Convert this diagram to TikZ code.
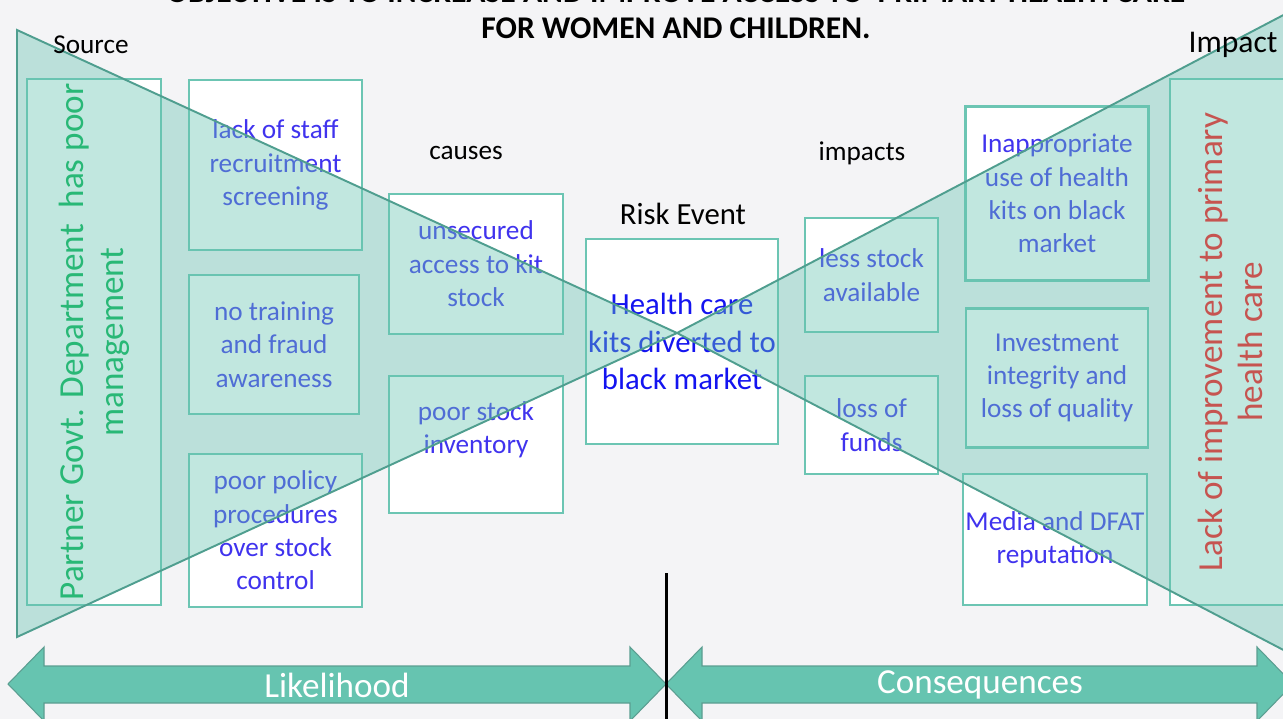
\documentclass[tikz,border=0pt]{standalone}
\usepackage{fontspec}
\setmainfont{Carlito}
\definecolor{pagebg}{HTML}{F4F4F6}
\definecolor{boxline}{HTML}{6CC5B3}
\definecolor{bowfill}{HTML}{66C4B0}
\definecolor{bowline}{HTML}{4F9E8F}
\definecolor{bandline}{HTML}{5B9E91}
\definecolor{causetext}{HTML}{4033EE}
\definecolor{eventtext}{HTML}{1414F0}
\definecolor{sourcegreen}{HTML}{00B050}
\definecolor{impactred}{HTML}{C65450}

\begin{document}
\begin{tikzpicture}[x=0.02cm,y=-0.02cm,
  box/.style={draw=boxline,line width=1.4pt,fill=white,align=center,text=causetext,inner sep=0pt,font=\fontsize{15.5}{19}\selectfont},
  sz/.style 2 args={minimum width=#1*0.02cm,minimum height=#2*0.02cm},
  head/.style={font=\fontsize{15.5}{19}\selectfont},
  title/.style={anchor=base,font=\bfseries\fontsize{18}{20}\selectfont},
  side/.style={rotate=90,align=center,font=\fontsize{20}{22.7}\selectfont},
  bow/.style={fill=bowfill,fill opacity=0.4,draw=bowline,line width=1.1pt},
  band/.style={fill=bowfill,draw=bandline,line width=0.6pt},
  bandtext/.style={text=white,font=\fontsize{20}{24}\selectfont}]
  \useasboundingbox (0,0) rectangle (1283,719);
  \fill[pagebg] (0,0) rectangle (1283,719);

  \node[title] (goal) at (676,3) {OBJECTIVE IS TO INCREASE AND IMPROVE ACCESS TO~ PRIMARY HEALTH CARE};
  \node[title] (goalb) at (676,39) {FOR WOMEN AND CHILDREN.};

  % causes side
  \node[box,sz={134}{526}] (source) at (94,342) {};
  \node[side,text=sourcegreen] (sourcetext) at (source.center) {Partner Govt. Department~ has poor\\management};
  \node[box,sz={173}{170}] (staff) at (275.5,165) {lack of staff\\recruitment\\screening};
  \node[box,sz={170}{139}] (training) at (274,344.5) {no training\\and fraud\\awareness};
  \node[box,sz={173}{153}] (policy) at (275.5,530.5) {poor policy\\procedures\\over stock\\control};
  \node[box,sz={174}{140}] (access) at (476,264) {unsecured\\access to kit\\stock};
  \node[box,sz={174}{137}] (inventory) at (476,444.5) {poor stock\\inventory\\\mbox{}};

  \node[box,sz={192}{205},text=eventtext,font=\fontsize{17.5}{21.5}\selectfont] (event) at (682,341.5) {Health care\\kits diverted to\\black market};

  % impacts side
  \node[box,sz={133}{114}] (stockout) at (871.5,275) {less stock\\available};
  \node[box,sz={133}{98}] (funds) at (871.5,425) {loss of\\funds};
  \node[box,sz={183}{174}] (misuse) at (1057,193.5) {Inappropriate\\use of health\\kits on black\\market};
  \node[box,sz={182}{139}] (integrity) at (1057,378) {Investment\\integrity and\\loss of quality};
  \node[box,sz={184}{131}] (media) at (1055,539.5) {Media and DFAT\\reputation};
  \node[box,sz={120}{526}] (impact) at (1230,342) {};

  % bow tie
  \coordinate (knot) at (677,333);
  \filldraw[bow] (17,30) -- (17,637) -- (knot) -- cycle;
  \filldraw[bow] (knot) -- (1293,10) -- (1293,655) -- cycle;

  \node[side,text=impactred] (impacttext) at (impact.center) {Lack of improvement to primary\\health care};

  \node[head] (sourcelbl) at (91,45) {Source};
  \node[head] (causeslbl) at (466,153) {causes};
  \node[font=\fontsize{17.5}{21}\selectfont] (eventlbl) at (683,214) {Risk Event};
  \node[head] (impactslbl) at (862,153) {impacts};
  \node[font=\fontsize{18}{22}\selectfont] (impactlbl) at (1233,45) {Impact};

  % likelihood / consequences bands
  \filldraw[band] (8,684) -- (44,647) -- (44,666) -- (630,666) -- (630,647) -- (666,684)
    -- (630,721) -- (630,703) -- (44,703) -- (44,721) -- cycle;
  \filldraw[band] (666,684) -- (702,647) -- (702,666) -- (1257,666) -- (1257,647) -- (1293,684)
    -- (1257,721) -- (1257,703) -- (702,703) -- (702,721) -- cycle;
  \node[bandtext] (likelihood) at (337,685) {Likelihood};
  \node[bandtext] (consequences) at (980,685) {Consequences};

  \coordinate (divtop) at (666,573);
  \coordinate (divbot) at (666,719);
  \draw[line width=1.7pt] (divtop) -- (divbot);
\end{tikzpicture}
\end{document}
